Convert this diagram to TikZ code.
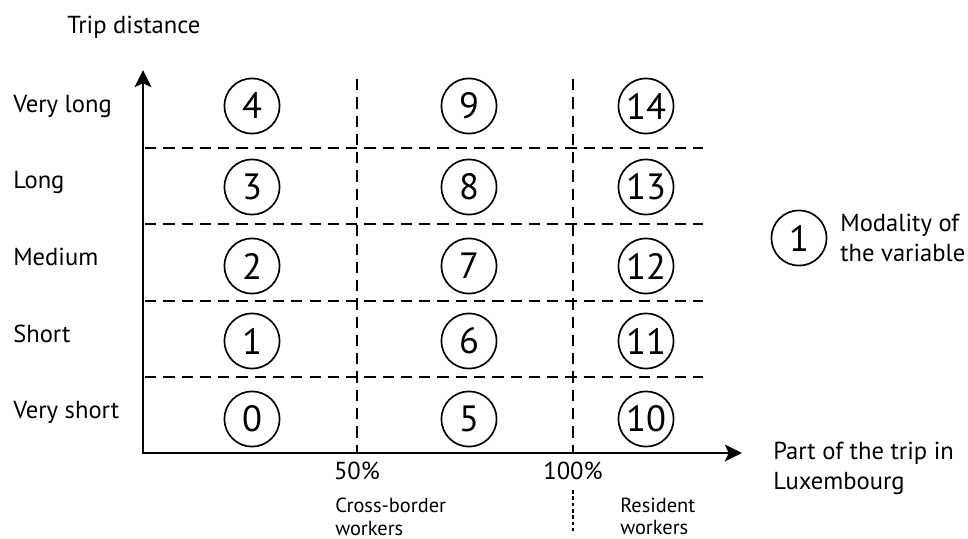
\documentclass[tikz,border=0pt]{standalone}
\usepackage{fontspec}
\setmainfont{PT Sans}
\usetikzlibrary{arrows.meta}
\tikzset{
	axisline/.style={line width=1.3pt},
	gridline/.style={line width=1.2pt, dash pattern=on 8pt off 5pt},
	dotline/.style={line width=1.1pt, dash pattern=on 2.5pt off 2pt},
	modality/.style={draw, circle, line width=1.2pt, minimum size=1.38cm, inner sep=0pt, font=\fontsize{26}{26}\selectfont},
	rowtext/.style={anchor=base west, inner sep=0pt, font=\fontsize{17.5}{21}\selectfont},
	pctext/.style={anchor=base, inner sep=0pt, font=\fontsize{17.5}{21}\selectfont},
	captext/.style={anchor=north west, inner sep=0pt, align=left, font=\fontsize{14.5}{15.8}\selectfont},
	bigtext/.style={anchor=north west, inner sep=0pt, align=left, font=\fontsize{17.5}{21}\selectfont}
}
\begin{document}
\begin{tikzpicture}[x=0.025cm, y=-0.025cm]
	\useasboundingbox (0,0) rectangle (968,539);

	% axes
	\coordinate (origin) at (143,453);
	\coordinate (ytip) at (143,70);
	\coordinate (xtip) at (742,453);
	\draw[axisline, {Stealth[length=0.43cm, width=0.42cm, inset=0.1cm]}-{Stealth[length=0.43cm, width=0.42cm, inset=0.1cm]}] (ytip) |- (xtip);

	% grid
	\foreach \hy in {148,224,301,377}
		\draw[gridline] (145,\hy) -- (703,\hy);

	\coordinate (d50) at (357,453);
	\coordinate (d100) at (573,453);
	\draw[gridline] (357,79) -- (d50);
	\draw[gridline] (573,79) -- (d100);
	\draw[dotline] (573,490) -- (573,534);

	% modalities
	\foreach \col/\cx in {0/252, 1/469, 2/646}
		\foreach \row/\cy in {0/419, 1/341, 2/266, 3/187, 4/106}
		{
			\pgfmathtruncatemacro{\n}{5*\col+\row}
			\node[modality] (m\n) at (\cx,\cy) {\n};
		}

	% labels
	\node[rowtext] (ytitle) at (67,33) {Trip distance};
	\foreach \ty/\txt in {112/Very long, 188/Long, 265/Medium, 342/Short, 418/Very short}
		\node[rowtext] (r\ty) at (13,\ty) {\txt};

	\node[pctext] (p50) at (357,479) {50\%};
	\node[pctext] (p100) at (573,479) {100\%};
	\node[bigtext] (xtitle) at (773,442) {Part of the trip in\\Luxembourg};

	\node[captext] (cross) at (335,498) {Cross-border\\workers};
	\node[captext] (resident) at (620,498) {Resident\\workers};

	% legend
	\node[modality] (key) at (799,238) {1};
	\node[bigtext] (keytext) at (840,214) {Modality of\\the variable};
\end{tikzpicture}
\end{document}
